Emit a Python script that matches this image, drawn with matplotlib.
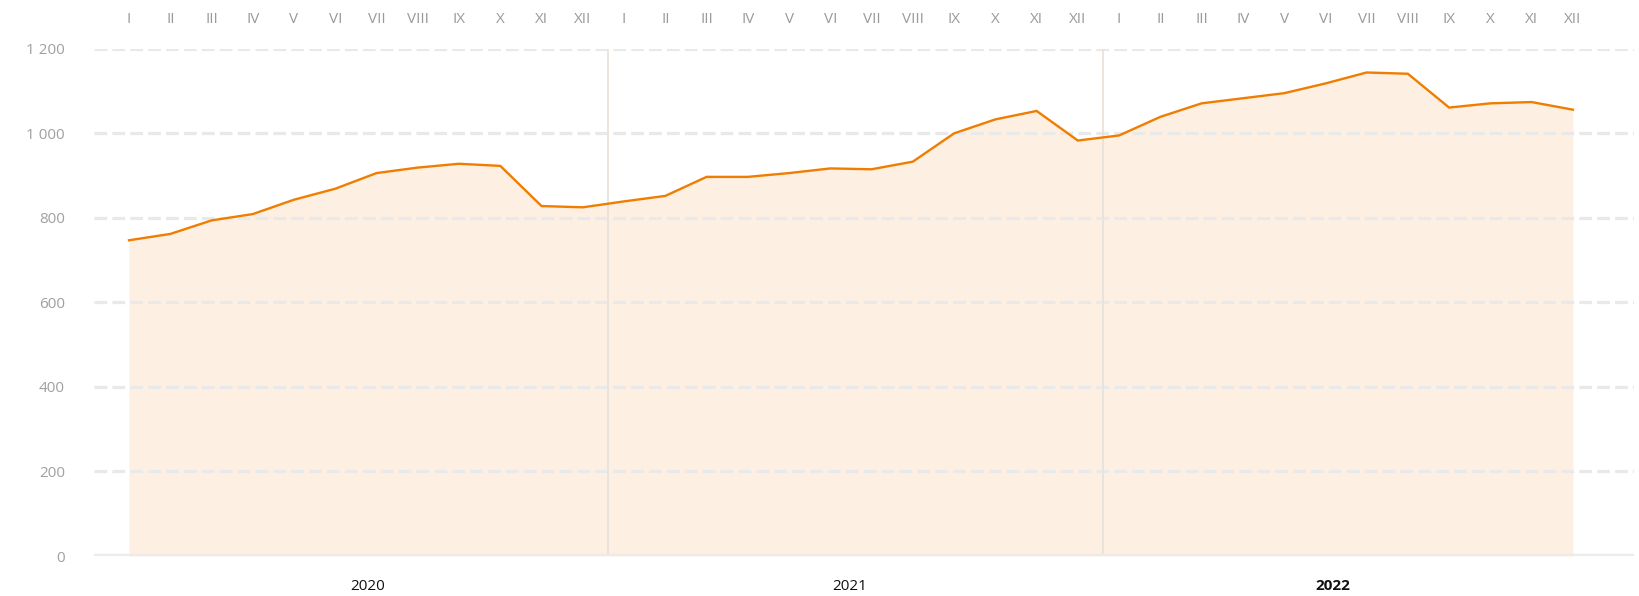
import matplotlib
matplotlib.use("Agg")
import matplotlib.pyplot as plt
import matplotlib.transforms as mtransforms
import numpy as np

# --- data ---
months = ["I", "II", "III", "IV", "V", "VI", "VII", "VIII", "IX", "X", "XI", "XII"]
years = ["2020", "2021", "2022"]

values_2020 = [747, 762, 794, 809, 843, 869, 906, 919, 928, 923, 828, 825]
values_2021 = [839, 852, 897, 897, 906, 917, 915, 933, 1000, 1033, 1053, 983]
values_2022 = [995, 1039, 1071, 1083, 1095, 1118, 1144, 1141, 1061, 1071, 1074, 1056]

y_ticks = [0, 200, 400, 600, 800, 1000, 1200]
y_tick_labels = ["0", "200", "400", "600", "800", "1 000", "1 200"]

# year label centres and year dividers, in month-index units
year_label_pos = [5.79, 17.48, 29.17]
divider_pos = [11.61, 23.62]

values = np.array(values_2020 + values_2021 + values_2022)
x = np.arange(len(values))
month_labels = months * len(years)

plt.rcParams['font.family'] = ['Open Sans', 'DejaVu Sans']

fig = plt.figure(figsize=(16.4, 5.96), dpi=100)
ax = fig.add_axes([0.0573, 0.0671, 0.939, 0.851])

line_color = "#f07d00"
fill_color = "#fdefe2"
grid_color = "#e9e9e9"

ax.fill_between(x, 0, values, color=fill_color, lw=0, zorder=1)
ax.plot(x, values, color=line_color, lw=1.7, zorder=4, solid_joinstyle="miter")

# dashed horizontal grid
for yv in y_ticks[1:]:
    ax.axhline(yv, color=grid_color, lw=2.3, dashes=(4, 1.6), zorder=2)

# baseline
ax.axhline(0, color="#ebebeb", lw=3.2, zorder=3)

# year dividers
for d in divider_pos:
    ax.plot([d, d], [0, 1200], color="#e9e2dc", lw=1.3, zorder=2.5)

ax.set_xlim(-0.85, 36.48)
ax.set_ylim(0, 1200)

# months on top
ax.xaxis.tick_top()
ax.set_xticks(x)
ax.set_xticklabels(month_labels, color="#9a9a9a", fontsize=11)
ax.tick_params(axis="x", length=0, pad=16)

ax.set_yticks(y_ticks)
ax.set_yticklabels(y_tick_labels, color="#a0a0a0", fontsize=11)
ax.tick_params(axis="y", length=0, pad=21)

for s in ax.spines.values():
    s.set_visible(False)

# year labels at bottom
trans = mtransforms.blended_transform_factory(ax.transData, fig.transFigure)
for i, (pos, yr) in enumerate(zip(year_label_pos, years)):
    ax.text(pos, 1 - 586 / 596, yr, transform=trans, ha="center", va="center",
            fontsize=11, color="#111111",
            fontweight="bold" if i == len(years) - 1 else "normal")

fig.savefig("out.png", dpi=100)
